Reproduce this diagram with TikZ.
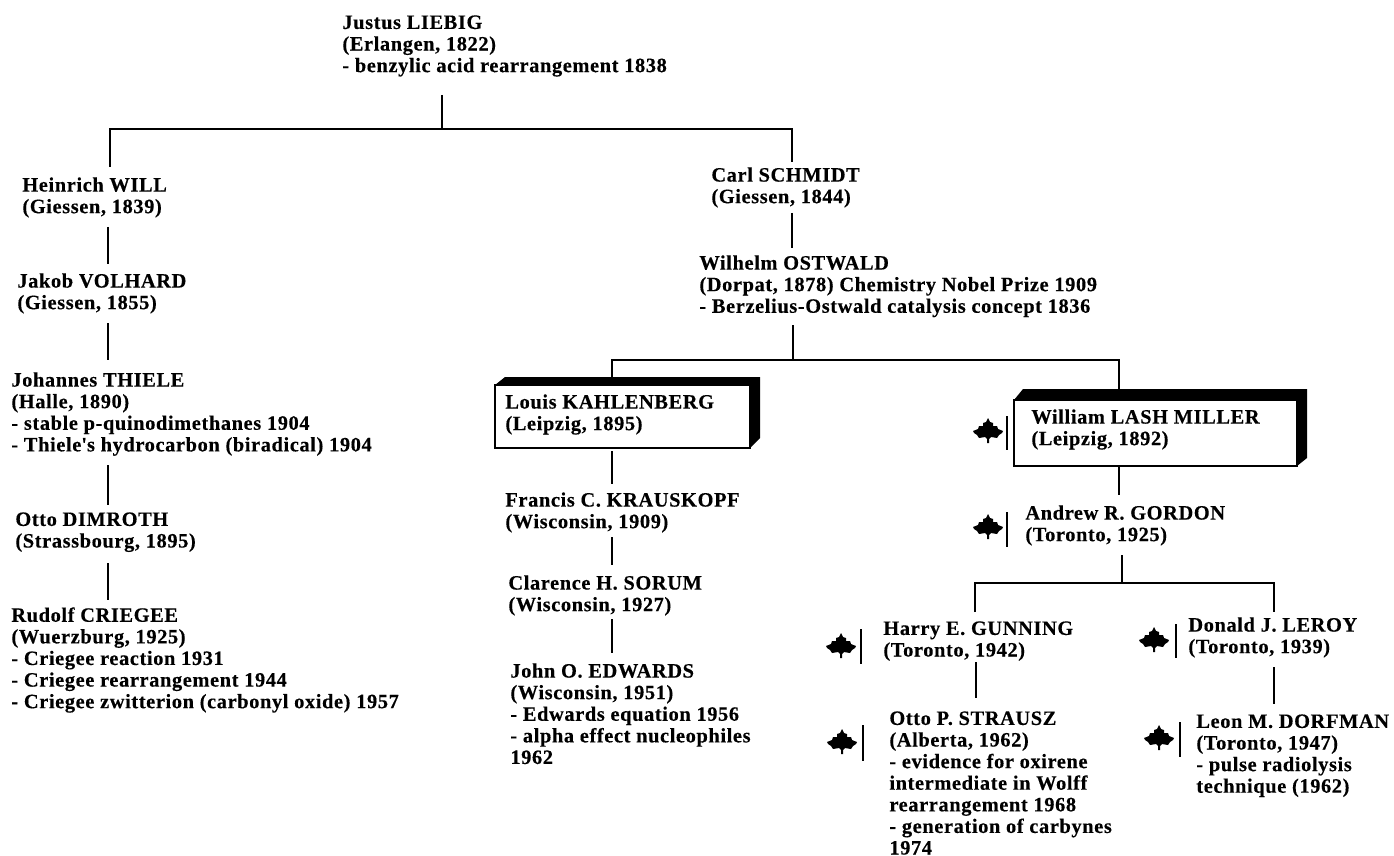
\documentclass[tikz,border=0pt]{standalone}
\usepackage{fontspec}
\setmainfont[LetterSpace=3,BoldFeatures={FakeBold=0.3}]{Liberation Serif}
\usepackage{tikz}
\usetikzlibrary{positioning}
\tikzset{person/.style={anchor=north west,align=left,inner sep=0pt,font=\bfseries\fontsize{10.2}{10.8}\selectfont},
    line/.style={line width=1.35pt},
    thinbar/.style={line width=0.6pt},
    leaf/.pic={\fill[black] (0,-13) -- (2,-9) -- (5,-8) -- (5,-5) -- (9,-5) -- (10,-2) -- (15,0) -- (14,2) -- (11,4) -- (9,7) -- (3,6) -- (1,8) -- (1,12) -- (-1,12) -- (-1,8) -- (-3,6) -- (-9,7) -- (-11,4) -- (-14,2) -- (-15,0) -- (-10,-2) -- (-9,-5) -- (-5,-5) -- (-5,-8) -- (-2,-9) -- cycle;}}

\begin{document}
\begin{tikzpicture}[x=0.5pt,y=-0.5pt]
        \useasboundingbox (0,0) rectangle (1394,856);

        % framed boxes
        \fill (495,385) -- (505,377) -- (760,377) -- (760,438) -- (750,448) -- cycle;
        \draw[line,fill=white] (495,385) rectangle (750,448);
        \fill (1014,400) -- (1023,389) -- (1307,389) -- (1307,458) -- (1297,466) -- cycle;
        \draw[line,fill=white] (1014,400) rectangle (1297,466);

        \node[person] (liebig) at (342,15) {Justus LIEBIG\\(Erlangen, 1822)\\- benzylic acid rearrangement 1838};
        \node[person] (will) at (22,177) {Heinrich WILL\\(Giessen, 1839)};
        \node[person] (volhard) at (17,273) {Jakob VOLHARD\\(Giessen, 1855)};
        \node[person] (thiele) at (11,372) {Johannes THIELE\\(Halle, 1890)\\- stable p-quinodimethanes 1904\\- Thiele\textquotesingle s hydrocarbon (biradical) 1904};
        \node[person] (dimroth) at (15,512) {Otto DIMROTH\\(Strassbourg, 1895)};
        \node[person] (criegee) at (11,607) {Rudolf CRIEGEE\\(Wuerzburg, 1925)\\- Criegee reaction 1931\\- Criegee rearrangement 1944\\- Criegee zwitterion (carbonyl oxide) 1957};
        \node[person] (schmidt) at (711,167) {Carl SCHMIDT\\(Giessen, 1844)};
        \node[person] (ostwald) at (699,255) {Wilhelm OSTWALD\\(Dorpat, 1878) Chemistry Nobel Prize 1909\\- Berzelius-Ostwald catalysis concept 1836};
        \node[person] (kahlenberg) at (505,394) {Louis KAHLENBERG\\(Leipzig, 1895)};
        \node[person] (krauskopf) at (505,492) {Francis C. KRAUSKOPF\\(Wisconsin, 1909)};
        \node[person] (sorum) at (508,575) {Clarence H. SORUM\\(Wisconsin, 1927)};
        \node[person] (edwards) at (510,663) {John O. EDWARDS\\(Wisconsin, 1951)\\- Edwards equation 1956\\- alpha effect nucleophiles\\1962};
        \node[person] (miller) at (1031,409) {William LASH MILLER\\(Leipzig, 1892)};
        \node[person] (gordon) at (1025,505) {Andrew R. GORDON\\(Toronto, 1925)};
        \node[person] (gunning) at (883,621) {Harry E. GUNNING\\(Toronto, 1942)};
        \node[person] (leroy) at (1188,617) {Donald J. LEROY\\(Toronto, 1939)};
        \node[person] (strausz) at (889,711) {Otto P. STRAUSZ\\(Alberta, 1962)\\- evidence for oxirene\\intermediate in Wolff\\rearrangement 1968\\- generation of carbynes\\1974};
        \node[person] (dorfman) at (1196,714) {Leon M. DORFMAN\\(Toronto, 1947)\\- pulse radiolysis\\technique (1962)};

        % branch points
        \coordinate (liebigend) at (442,95);
        \coordinate (liebigjoin) at (442,129);
        \coordinate (willend) at (110,167);
        \coordinate (schmidtend) at (792,162);
        \coordinate (ostwaldend) at (793,325);
        \coordinate (ostwaldjoin) at (793,360);
        \coordinate (kahlenbergtop) at (612,377);
        \coordinate (millertop) at (1119,389);
        \coordinate (gordonend) at (1122,555);
        \coordinate (gordonjoin) at (1122,583);
        \coordinate (gunningend) at (975,612);
        \coordinate (leroyend) at (1274,612);

        \draw[line] (liebigend) -- (liebigjoin);
        \draw[line] (willend) |- (liebigjoin) -| (schmidtend);
        \draw[line] (ostwaldend) -- (ostwaldjoin);
        \draw[line] (kahlenbergtop) |- (ostwaldjoin) -| (millertop);
        \draw[line] (gordonend) -- (gordonjoin);
        \draw[line] (gunningend) |- (gordonjoin) -| (leroyend);

        \coordinate (a1) at (108,227); \coordinate (a2) at (108,264);
        \coordinate (b1) at (108,323); \coordinate (b2) at (108,360);
        \coordinate (c1) at (108,465); \coordinate (c2) at (108,505);
        \coordinate (d1) at (108,563); \coordinate (d2) at (108,600);
        \coordinate (e1) at (612,451); \coordinate (e2) at (612,484);
        \coordinate (f1) at (612,537); \coordinate (f2) at (612,565);
        \coordinate (g1) at (612,619); \coordinate (g2) at (612,653);
        \coordinate (h1) at (1119,466); \coordinate (h2) at (1119,495);
        \coordinate (i1) at (976,662); \coordinate (i2) at (976,698);
        \coordinate (j1) at (1274,667); \coordinate (j2) at (1274,704);
        \coordinate (k1) at (792,213); \coordinate (k2) at (792,248);
        \draw[line] (a1) -- (a2);
        \draw[line] (b1) -- (b2);
        \draw[line] (c1) -- (c2);
        \draw[line] (d1) -- (d2);
        \draw[line] (e1) -- (e2);
        \draw[line] (f1) -- (f2);
        \draw[line] (g1) -- (g2);
        \draw[line] (h1) -- (h2);
        \draw[line] (i1) -- (i2);
        \draw[line] (j1) -- (j2);
        \draw[line] (k1) -- (k2);

        % maple leaves
        \pic at (988,431) {leaf};
        \pic at (988,527) {leaf};
        \pic at (841,646) {leaf};
        \pic at (1154,640) {leaf};
        \pic at (842,742) {leaf};
        \pic at (1159,738) {leaf};
        \draw[thinbar] (1007,416) -- (1007,450);
        \draw[thinbar] (1007,512) -- (1007,547);
        \draw[thinbar] (861,629) -- (861,664);
        \draw[thinbar] (1176,624) -- (1176,658);
        \draw[thinbar] (863,725) -- (863,761);
        \draw[thinbar] (1180,722) -- (1180,757);

    \end{tikzpicture}
\end{document}
